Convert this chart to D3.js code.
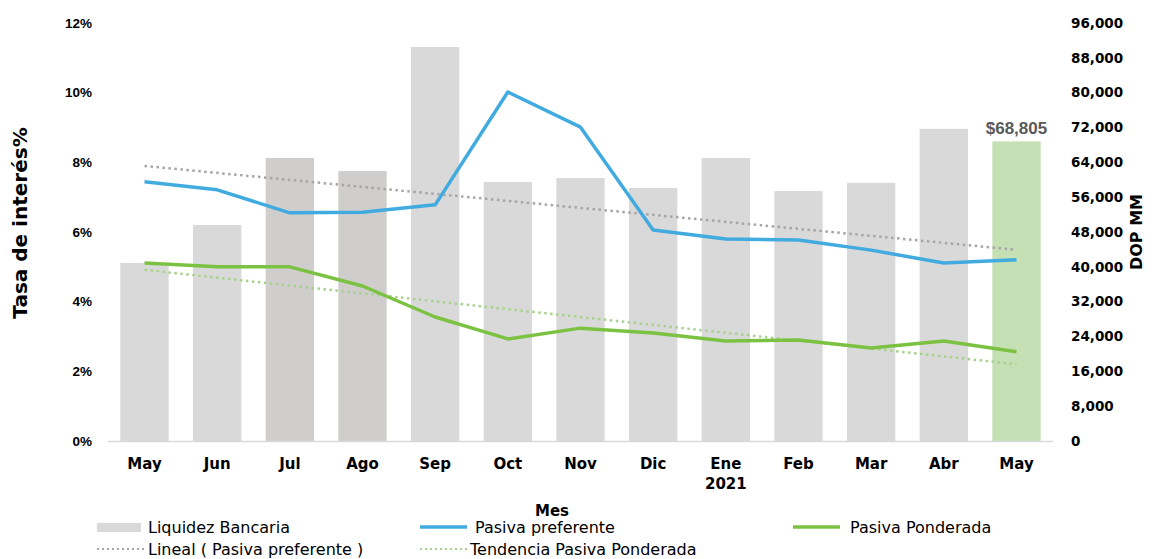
<!DOCTYPE html>
<html>
<head>
<meta charset="utf-8">
<script src="https://cdn.jsdelivr.net/npm/d3@7"></script>
<style>
  body { margin: 0; background: #fff; }
  text { font-family: "DejaVu Sans", sans-serif; }
</style>
</head>
<body>
<script>
// data
var months = ["May","Jun","Jul","Ago","Sep","Oct","Nov","Dic","Ene","Feb","Mar","Abr","May"];
var liquidez = [40900, 49600, 65000, 62000, 90500, 59500, 60400, 58100, 65000, 57400, 59300, 71700, 68805];
var pasivaPref = [7.44, 7.21, 6.55, 6.57, 6.78, 10.02, 9.01, 6.06, 5.80, 5.77, 5.48, 5.11, 5.20];
var pasivaPond = [5.11, 5.00, 5.00, 4.45, 3.56, 2.93, 3.24, 3.10, 2.87, 2.90, 2.67, 2.87, 2.56];
var leftTicks = [0, 2, 4, 6, 8, 10, 12];
var rightTicks = [0, 8000, 16000, 24000, 32000, 40000, 48000, 56000, 64000, 72000, 80000, 88000, 96000];

var width = 1152, height = 559;
var margin = {top: 23, right: 99, bottom: 118, left: 108};
var w = width - margin.left - margin.right;
var h = height - margin.top - margin.bottom;

var svg = d3.select("body").append("svg")
    .attr("width", width)
    .attr("height", height);
var g = svg.append("g")
    .attr("transform", "translate(" + margin.left + "," + margin.top + ")");

var idx = d3.range(months.length);
var xScale = d3.scaleBand().domain(idx).range([0, w]).paddingInner(0.335).paddingOuter(0.17);
var xc = function(i) { return xScale(i) + xScale.bandwidth() / 2; };
var yLeft = d3.scaleLinear().domain([0, 12]).range([h, 0]);
var yRight = d3.scaleLinear().domain([0, 96000]).range([h, 0]);

// bars
g.selectAll(".bar")
    .data(liquidez)
  .enter().append("rect")
    .attr("class", "bar")
    .attr("x", function(d, i) { return xScale(i); })
    .attr("width", xScale.bandwidth())
    .attr("y", function(d) { return yRight(d); })
    .attr("height", function(d) { return h - yRight(d); })
    .style("fill", function(d, i) {
        if (i == liquidez.length - 1) return "#c5e0b4";
        if (i == 2 || i == 3) return "#d0cecd";
        return "#d9d9d9";
    });

// bottom axis line
g.append("line")
    .attr("x1", 0).attr("x2", w)
    .attr("y1", h + 0.5).attr("y2", h + 0.5)
    .style("stroke", "#d9d9d9").style("stroke-width", 1.5);

// label on last bar
var last = liquidez.length - 1;
g.append("text")
    .attr("x", xc(last))
    .attr("y", yRight(liquidez[last]) - 7)
    .attr("text-anchor", "middle")
    .style("font-family", "'Liberation Sans', sans-serif")
    .style("font-size", "17px").style("font-weight", "bold")
    .style("fill", "#595959")
    .text("$" + d3.format(",")(liquidez[last]));

// linear trend (least squares)
function trend(vals) {
    var n = vals.length, mx = d3.mean(idx), my = d3.mean(vals);
    var sxy = 0, sxx = 0;
    vals.forEach(function(v, i) { sxy += (i - mx) * (v - my); sxx += (i - mx) * (i - mx); });
    var b = sxy / sxx, a = my - b * mx;
    return [[0, a], [n - 1, a + b * (n - 1)]];
}

var trendLine = d3.line().x(function(d) { return xc(d[0]); }).y(function(d) { return yLeft(d[1]); });

g.append("path")
    .attr("d", trendLine(trend(pasivaPref)))
    .style("fill", "none").style("stroke", "#a6a6a6")
    .style("stroke-width", 2.5).style("stroke-dasharray", "2.5,3.5");
g.append("path")
    .attr("d", trendLine(trend(pasivaPond)))
    .style("fill", "none").style("stroke", "#a9d18e")
    .style("stroke-width", 2.5).style("stroke-dasharray", "2.5,3.5");

var line = d3.line().x(function(d, i) { return xc(i); }).y(function(d) { return yLeft(d); });

g.append("path")
    .attr("d", line(pasivaPref))
    .style("fill", "none").style("stroke", "#41abe0")
    .style("stroke-width", 3.5).style("stroke-linejoin", "round");
g.append("path")
    .attr("d", line(pasivaPond))
    .style("fill", "none").style("stroke", "#7cc242")
    .style("stroke-width", 3.5).style("stroke-linejoin", "round");

// left axis
var yAxisL = d3.axisLeft(yLeft).tickValues(leftTicks).tickSize(0).tickPadding(16)
    .tickFormat(function(d) { return d + "%"; });
var gl = g.append("g").call(yAxisL);
gl.select(".domain").remove();
gl.selectAll("text")
    .style("font-family", "'Liberation Sans', sans-serif")
    .style("font-size", "13.5px").style("font-weight", "bold").style("fill", "#000");

// right axis
var yAxisR = d3.axisRight(yRight).tickValues(rightTicks).tickSize(0).tickPadding(18)
    .tickFormat(d3.format(","));
var gr = g.append("g").attr("transform", "translate(" + w + ",0)").call(yAxisR);
gr.select(".domain").remove();
gr.selectAll("text")
    .style("font-size", "13.5px").style("font-weight", "bold").style("fill", "#000");

// x labels
g.selectAll(".xlab")
    .data(months)
  .enter().append("text")
    .attr("class", "xlab")
    .attr("x", function(d, i) { return xc(i); })
    .attr("y", h + 28)
    .attr("text-anchor", "middle")
    .style("font-size", "15px").style("font-weight", "bold")
    .text(function(d) { return d; });
g.append("text")
    .attr("x", xc(8)).attr("y", h + 48)
    .attr("text-anchor", "middle")
    .style("font-size", "15px").style("font-weight", "bold")
    .text("2021");

// axis titles
svg.append("text")
    .attr("transform", "translate(27,223) rotate(-90)")
    .attr("text-anchor", "middle")
    .style("font-size", "20px").style("font-weight", "bold")
    .text("Tasa de interés%");
svg.append("text")
    .attr("transform", "translate(1142,232) rotate(-90)")
    .attr("text-anchor", "middle")
    .style("font-size", "16px").style("font-weight", "bold")
    .text("DOP MM");
svg.append("text")
    .attr("x", 552).attr("y", 516)
    .attr("text-anchor", "middle")
    .style("font-size", "15px").style("font-weight", "bold")
    .text("Mes");

// legend
var legendItems = [
    {name: "Liquidez Bancaria", type: "rect", color: "#d9d9d9", x: 97, y: 527, tx: 148},
    {name: "Pasiva preferente", type: "line", color: "#41abe0", x: 420, y: 527, tx: 475},
    {name: "Pasiva Ponderada", type: "line", color: "#7cc242", x: 793, y: 527, tx: 850},
    {name: "Lineal ( Pasiva preferente )", type: "dot", color: "#a6a6a6", x: 97, y: 549, tx: 148},
    {name: "Tendencia Pasiva Ponderada", type: "dot", color: "#a9d18e", x: 420, y: 549, tx: 470}
];
var legend = svg.selectAll(".legend")
    .data(legendItems)
  .enter().append("g")
    .attr("class", "legend");
legend.each(function(d) {
    var s = d3.select(this);
    if (d.type == "rect") {
        s.append("rect").attr("x", d.x).attr("y", d.y - 4).attr("width", 44).attr("height", 9)
            .style("fill", d.color);
    } else {
        s.append("line").attr("x1", d.x).attr("x2", d.x + 47)
            .attr("y1", d.y).attr("y2", d.y)
            .style("stroke", d.color)
            .style("stroke-width", d.type == "line" ? 3.5 : 2)
            .style("stroke-dasharray", d.type == "dot" ? "2,3" : null);
    }
    s.append("text").attr("x", d.tx).attr("y", d.y + 6)
        .style("font-size", "16px")
        .text(d.name);
});
</script>
</body>
</html>
